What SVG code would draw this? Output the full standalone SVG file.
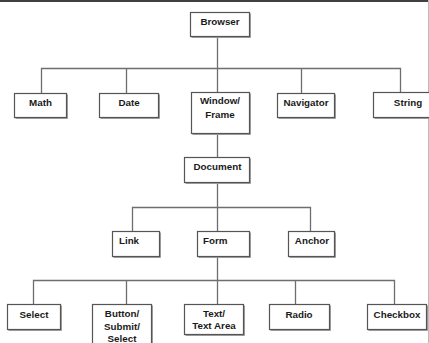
<svg xmlns="http://www.w3.org/2000/svg" width="429" height="343" viewBox="0 0 429 343">
<style>
.box{fill:#fff;stroke:#555;stroke-width:1.2}
.sh{fill:none;stroke:#999;stroke-width:1}
.lbl{font-family:"Liberation Sans",Arial,sans-serif;font-weight:bold;font-size:9.8px;fill:#1a1a1a;text-anchor:middle}
.con{fill:none;stroke:#6e6e6e;stroke-width:1.3}
</style>
<rect x="0" y="0" width="429" height="343" fill="#fff"/>
<line x1="0" y1="1" x2="429" y2="1" stroke="#000" stroke-width="1.6"/>
<line x1="428.5" y1="0" x2="428.5" y2="343" stroke="#bbb" stroke-width="1"/>
<g id="connectors">
<path class="con" d="M217.5 36V68.5M41.5 93V68.5H400.5V93M126.5 68.5V93M217.5 68.5V93M301.5 68.5V93"/>
<path class="con" d="M217.5 133V157M217.5 183V207.5M132.5 231V207.5H310.5V231M217.5 207.5V231"/>
<path class="con" d="M217.5 256V280.5M33.5 304V280.5H394.5V304M126.5 280.5V304M217.5 280.5V304M295.5 280.5V304"/>
</g>
<g id="browser"><rect class="box" x="190.5" y="12.5" width="59" height="24"/><path class="sh" d="M250.5 13.5V37.5H191.5"/><text class="lbl" x="220" y="25">Browser</text></g>
<g id="math"><rect class="box" x="14.5" y="93.5" width="52" height="24"/><path class="sh" d="M67.5 94.5V118.5H15.5"/><text class="lbl" x="40.5" y="106">Math</text></g>
<g id="date"><rect class="box" x="99.5" y="93.5" width="59" height="24"/><path class="sh" d="M159.5 94.5V118.5H100.5"/><text class="lbl" x="129" y="106">Date</text></g>
<g id="window"><rect class="box" x="191.5" y="92.5" width="58" height="41"/><path class="sh" d="M250.5 93.5V134.5H192.5"/><text class="lbl" x="220" y="104">Window/</text><text class="lbl" x="220" y="118">Frame</text></g>
<g id="navigator"><rect class="box" x="277.5" y="93.5" width="57" height="24"/><path class="sh" d="M335.5 94.5V118.5H278.5"/><text class="lbl" x="306" y="106">Navigator</text></g>
<g id="string"><rect class="box" x="373.5" y="92.5" width="68" height="25"/><path class="sh" d="M374.5 118.5H442"/><text class="lbl" x="408" y="106">String</text></g>
<g id="document"><rect class="box" x="184.5" y="157.5" width="65" height="25"/><path class="sh" d="M250.5 158.5V183.5H185.5"/><text class="lbl" x="217.5" y="170.2">Document</text></g>
<g id="link"><rect class="box" x="112.5" y="231.5" width="47" height="25"/><path class="sh" d="M160.5 232.5V257.5H113.5"/><text class="lbl" x="129" y="244.2">Link</text></g>
<g id="form"><rect class="box" x="197.5" y="231.5" width="52" height="25"/><path class="sh" d="M250.5 232.5V257.5H198.5"/><text class="lbl" x="215.3" y="244.2">Form</text></g>
<g id="anchor"><rect class="box" x="288.5" y="231.5" width="46" height="25"/><path class="sh" d="M335.5 232.5V257.5H289.5"/><text class="lbl" x="312" y="244.2">Anchor</text></g>
<g id="select"><rect class="box" x="7.5" y="304.5" width="53" height="25"/><path class="sh" d="M61.5 305.5V330.5H8.5"/><text class="lbl" x="34" y="317.5">Select</text></g>
<g id="button"><rect class="box" x="92.5" y="304.5" width="59" height="45"/><path class="sh" d="M152.5 305.5V345"/><text class="lbl" x="122" y="317">Button/</text><text class="lbl" x="122" y="330">Submit/</text><text class="lbl" x="122" y="342">Select</text></g>
<g id="text"><rect class="box" x="184.5" y="304.5" width="59" height="30"/><path class="sh" d="M244.5 305.5V335.5H185.5"/><text class="lbl" x="214" y="317">Text/</text><text class="lbl" x="214" y="329">Text Area</text></g>
<g id="radio"><rect class="box" x="269.5" y="304.5" width="60" height="25"/><path class="sh" d="M330.5 305.5V330.5H270.5"/><text class="lbl" x="299" y="317.5">Radio</text></g>
<g id="checkbox"><rect class="box" x="367.5" y="304.5" width="59" height="25"/><path class="sh" d="M427.5 305.5V330.5H368.5"/><text class="lbl" x="397" y="317.5">Checkbox</text></g>
</svg>
